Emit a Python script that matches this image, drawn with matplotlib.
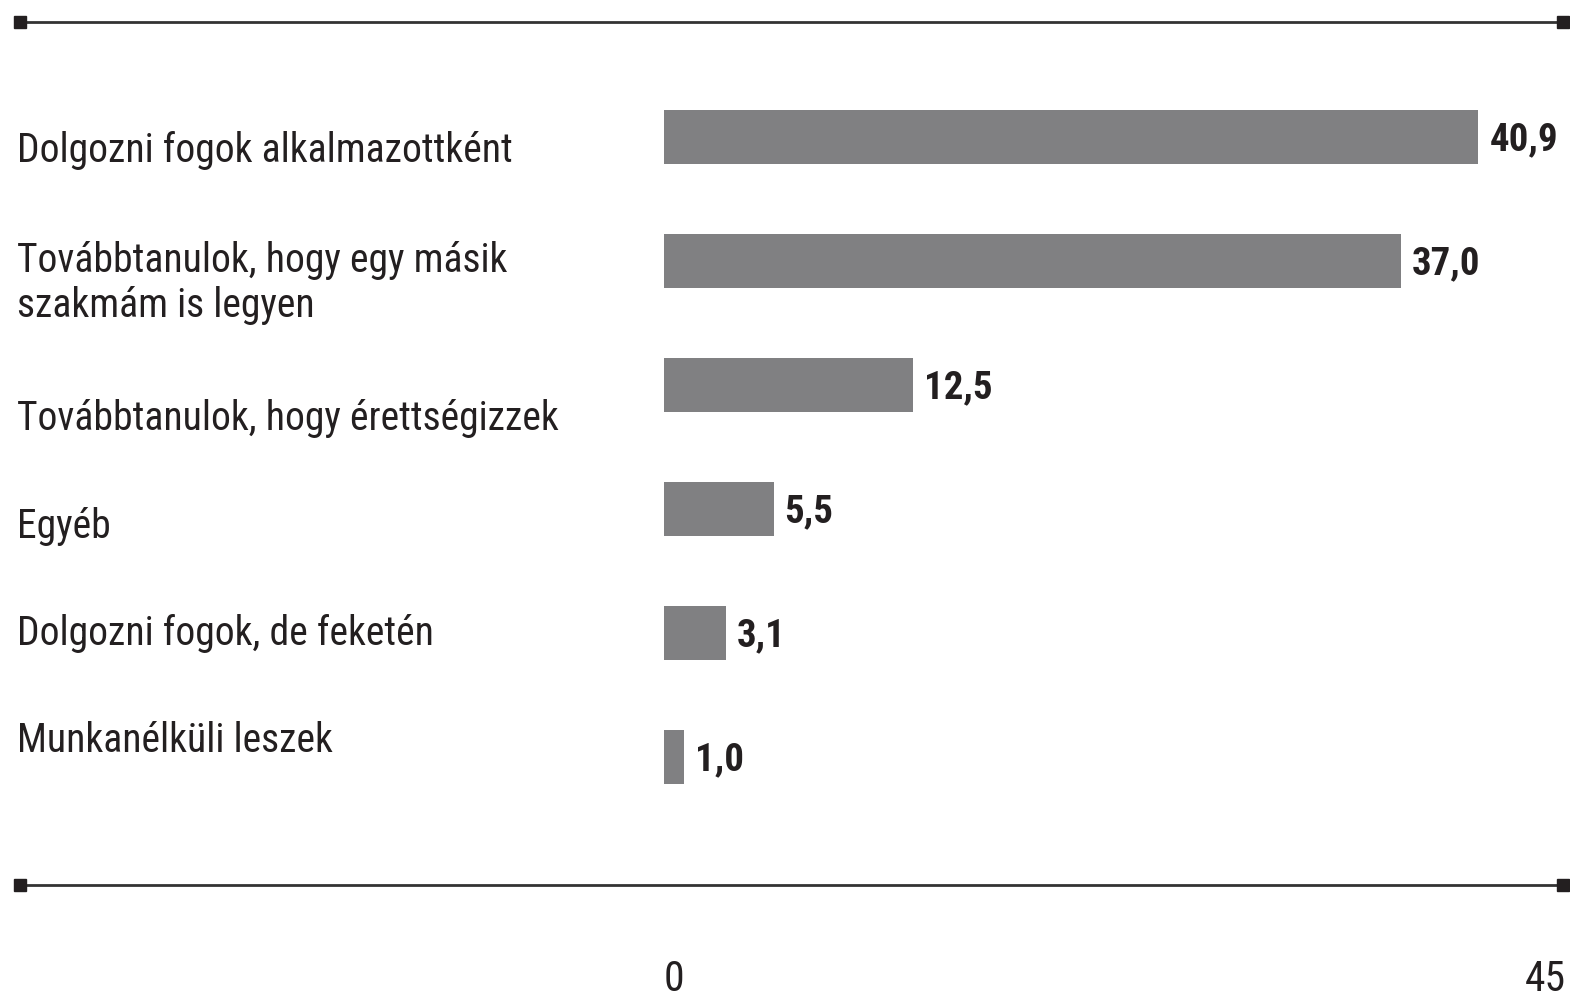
import matplotlib
matplotlib.use("Agg")
import matplotlib.pyplot as plt
from matplotlib import font_manager
from matplotlib.lines import Line2D
import matplotlib.transforms as mtransforms

# data
categories = [
    "Dolgozni fogok alkalmazottként",
    "Továbbtanulok, hogy egy másik\nszakmám is legyen",
    "Továbbtanulok, hogy érettségizzek",
    "Egyéb",
    "Dolgozni fogok, de feketén",
    "Munkanélküli leszek",
]
values = [40.9, 37.0, 12.5, 5.5, 3.1, 1.0]
value_labels = ["40,9", "37,0", "12,5", "5,5", "3,1", "1,0"]
x_ticks = [0, 45]
x_tick_labels = ["0", "45"]


def pick_font(names):
    for name in names:
        try:
            font_manager.findfont(name, fallback_to_default=False)
            return name
        except ValueError:
            continue
    return "DejaVu Sans"


font = pick_font(["Roboto Condensed", "Liberation Sans Narrow", "DejaVu Sans Condensed", "Roboto"])
plt.rcParams["font.family"] = [font, "DejaVu Sans"]

bar_color = "#808082"
text_color = "#231f20"

fig = plt.figure(figsize=(15.7, 10.02), dpi=100)
ax = fig.add_axes([664 / 1570, 1 - 819 / 1002, 896 / 1570, 744 / 1002])

ypos = list(range(len(values)))
ax.barh(ypos, values, height=0.44, color=bar_color)
ax.set_xlim(0, 45)
ax.set_ylim(len(values) - 0.5, -0.5)

for y, v, lab in zip(ypos, values, value_labels):
    ax.annotate(lab, (v, y), xytext=(8, -2), textcoords="offset points",
                va="center", ha="left", fontsize=28, fontweight="bold",
                color=text_color)

# category labels at the left edge of the figure
trans = mtransforms.blended_transform_factory(fig.transFigure, ax.transData)
label_shift = [13, 22, 33, 17, 0, -16]  # px, labels do not sit exactly on bar centres
for y, cat, dy in zip(ypos, categories, label_shift):
    t = trans + mtransforms.ScaledTranslation(0, -dy / 100, fig.dpi_scale_trans)
    fig.text(17 / 1570, y, cat, transform=t, va="center", ha="left",
             fontsize=28.5, color=text_color, linespacing=1.22)

# x tick labels: "0" flush left with the bars, "45" flush right at the end
ax.set_xticks([])
ax.tick_params(axis="y", left=False, labelleft=False)
for xv, lab, ha, dx in zip(x_ticks, x_tick_labels, ["left", "right"], [0, 4]):
    ax.annotate(lab, (xv, 0), xycoords=("data", "axes fraction"),
                xytext=(dx, -101), textcoords="offset points",
                ha=ha, va="top", fontsize=30, color=text_color)
for s in ax.spines.values():
    s.set_visible(False)

# rule lines with square end caps, top and bottom
for yfig in (1 - 22 / 1002, 1 - 885 / 1002):
    fig.add_artist(Line2D([20 / 1570, 1563 / 1570], [yfig, yfig], transform=fig.transFigure,
                          color="#333333", lw=2, marker="s", markersize=8,
                          markerfacecolor="#231f20", markeredgecolor="#231f20"))

fig.savefig("out.png", dpi=100)
